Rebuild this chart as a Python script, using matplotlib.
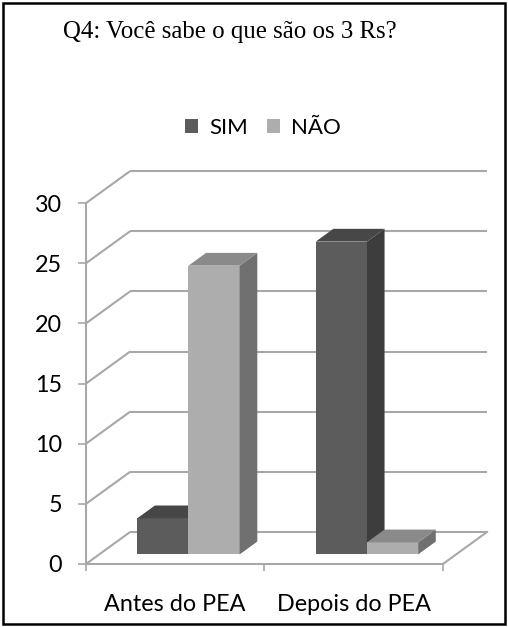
import matplotlib
matplotlib.use("Agg")
import matplotlib.pyplot as plt
from matplotlib.patches import Polygon, Rectangle

# ---- data ----
categories = ["Antes do PEA", "Depois do PEA"]
series_names = ["SIM", "NÃO"]
sim_values = [3, 26]
nao_values = [24, 1]
y_ticks = [0, 5, 10, 15, 20, 25, 30]
title = "Q4: Você sabe o que são os 3 Rs?"

# ---- style ----
front_colors = ["#5c5c5c", "#adadad"]
top_colors = ["#474747", "#8a8a8a"]
side_colors = ["#3d3d3d", "#707070"]
grid_color = "#a8a8a8"

FIG_W, FIG_H = 508, 627
def fx(px): return px / FIG_W
def fy(py): return 1 - py / FIG_H

fig = plt.figure(figsize=(FIG_W / 100, FIG_H / 100), dpi=100)
fig.patch.set_facecolor("white")

PX_PER_UNIT_Y = 12.03
Y_ZERO_PX, Y_TOP_PX = 564, 169
X_LEFT_PX, X_RIGHT_PX = 86, 487
ax = fig.add_axes([fx(X_LEFT_PX), fy(Y_ZERO_PX),
                   (X_RIGHT_PX - X_LEFT_PX) / FIG_W, (Y_ZERO_PX - Y_TOP_PX) / FIG_H])
ax.set_facecolor("none")

DX = 0.247                 # depth offset in category units
DY = 32 / PX_PER_UNIT_Y    # depth offset in value units
xmin, xmax = -0.5, len(categories) - 0.5
ax.set_xlim(xmin, xmax + DX)
ax.set_ylim(0, (Y_ZERO_PX - Y_TOP_PX) / PX_PER_UNIT_Y)

lw = 1.5
# walls: gridlines on back wall and diagonals on left wall
for v in y_ticks:
    ax.plot([xmin, xmin + DX], [v, v + DY], color=grid_color, lw=lw, zorder=1,
            clip_on=False, solid_capstyle="butt")
    ax.plot([xmin + DX, xmax + DX], [v + DY, v + DY], color=grid_color, lw=lw,
            zorder=1, clip_on=False, solid_capstyle="butt")
# floor
ax.plot([xmin, xmax], [0, 0], color=grid_color, lw=lw, zorder=1, clip_on=False)
ax.plot([xmax, xmax + DX], [0, DY], color=grid_color, lw=lw, zorder=1, clip_on=False)

# bars
d0, dd = 0.3, 0.4
W = 0.287
values = [sim_values, nao_values]
handles = []
for i in range(len(categories)):
    for j in range(len(series_names)):
        h = values[j][i]
        x0 = i - W + j * W + d0 * DX
        b = d0 * DY
        z = 3 + i * 2 + j
        bc = ax.bar(x0, h, width=W, bottom=b, align="edge", color=front_colors[j],
                    linewidth=0, zorder=z, label=series_names[j] if i == 0 else None)
        if i == 0:
            handles.append(bc)
        x1 = x0 + W
        side = Polygon([(x1, b), (x1 + dd * DX, b + dd * DY),
                        (x1 + dd * DX, b + h + dd * DY), (x1, b + h)],
                       closed=True, facecolor=side_colors[j], edgecolor="none", zorder=z)
        top = Polygon([(x0, b + h), (x1, b + h), (x1 + dd * DX, b + h + dd * DY),
                       (x0 + dd * DX, b + h + dd * DY)],
                      closed=True, facecolor=top_colors[j], edgecolor="none", zorder=z)
        ax.add_patch(side)
        ax.add_patch(top)

# axes styling
for s in ["top", "right", "bottom"]:
    ax.spines[s].set_visible(False)
ax.spines["left"].set_color(grid_color)
ax.spines["left"].set_linewidth(lw)
ax.spines["left"].set_bounds(0, y_ticks[-1])
ax.set_yticks(y_ticks)
ax.tick_params(axis="y", length=5.8, width=1.2, color=grid_color, pad=11.5,
               labelsize=16.8, labelcolor="black")
for lab in ax.get_yticklabels():
    lab.set_fontfamily("Lato")

ax.set_xticks(range(len(categories)))
ax.set_xticklabels(categories, fontfamily="Lato", fontsize=16.8)
ax.set_xticks([xmin + k for k in range(len(categories) + 1)], minor=True)
ax.tick_params(axis="x", which="major", length=0, pad=21.5)
ax.tick_params(axis="x", which="minor", length=5, width=1.2, color=grid_color)

# legend
ax.legend(handles=handles, labels=series_names, ncol=2, loc="center",
          bbox_to_anchor=(fx(263), fy(128)), bbox_transform=fig.transFigure,
          frameon=False, prop={"family": "Lato", "size": 16},
          handlelength=0.6, handleheight=0.6, handletextpad=0.5,
          columnspacing=0.85, borderpad=0)

# title
fig.text(fx(63), fy(38), title, fontfamily="Liberation Serif", fontsize=17.9,
         ha="left", va="baseline")

# outer frame
fig.patches.append(Rectangle((fx(3), fy(624)), fx(505) - fx(3), fy(3) - fy(624),
                             transform=fig.transFigure, fill=False,
                             edgecolor="black", linewidth=1.8))

fig.savefig("out.png", dpi=100)
